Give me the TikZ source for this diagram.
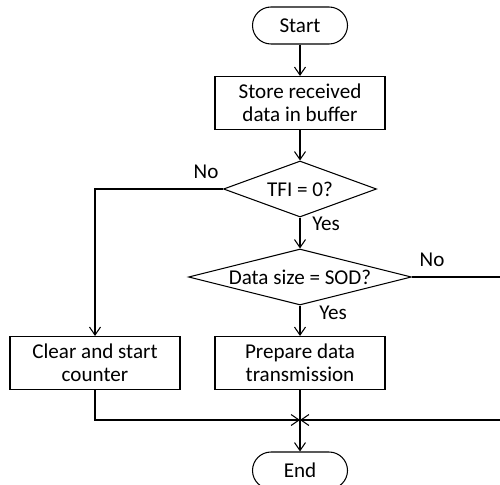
\documentclass[tikz,border=0pt]{standalone}
\usepackage{fontspec}
\setmainfont{Carlito}
\usetikzlibrary{shapes.geometric, arrows.meta, positioning}
\tikzset{
    terminal/.style={
        rectangle, draw=black, line width=0.6pt, rounded corners=0.37cm,
        minimum width=1.9cm, minimum height=0.74cm,
        fill=white, font=\fontsize{12}{13}\selectfont
    },
    process/.style={
        rectangle, draw=black, line width=0.6pt,
        minimum width=3.4cm, minimum height=1.06cm, align=center,
        fill=white, font=\fontsize{12}{13}\selectfont
    },
    decision/.style={
        diamond, draw=black, line width=0.6pt, aspect=4, inner sep=0pt,
        minimum height=1.12cm,
        fill=white, font=\fontsize{12}{13}\selectfont
    },
    flow/.style={draw=black, line width=0.6pt, -{Straight Barb[length=1.6mm, width=2.2mm]}},
    line/.style={draw=black, line width=0.6pt},
    answer/.style={font=\fontsize{12}{13}\selectfont, inner sep=0pt}
}
\begin{document}
\begin{tikzpicture}
\useasboundingbox (0,0) rectangle (10,-9.68);

% Main column
\node[terminal] (start) at (6,-0.51) {Start};
\node[process] (store) at (6,-2.06) {Store received\\data in buffer};
\node[decision, minimum width=3.06cm] (tfi) at (6,-3.78) {TFI = 0?};
\node[decision, minimum width=4.46cm] (sod) at (6,-5.54) {Data size = SOD?};
\node[process] (prep) at (6,-7.26) {Prepare data\\transmission};
\node[terminal] (end) at (6,-9.41) {End};

% Left branch
\node[process] (clear) at (1.9,-7.26) {Clear and start\\counter};

% Branch labels
\node[answer] (tfino) at (4.12,-3.43) {No};
\node[answer] (tfiyes) at (6.52,-4.48) {Yes};
\node[answer] (sodno) at (8.64,-5.19) {No};
\node[answer] (sodyes) at (6.66,-6.26) {Yes};

% Joins
\coordinate (merge) at (6,-8.4);
\coordinate (rcorner) at (10.06,-8.4);

% Connections
\draw[flow] (start) -- (store);
\draw[flow] (store) -- (tfi);
\draw[flow] (tfi) -- (sod);
\draw[flow] (sod) -- (prep);
\draw[flow] (tfi.west) -| (clear);
\draw[flow] (sod.east) -| (rcorner) -- (merge);
\draw[flow] (clear) |- (merge);
\draw[line] (prep) -- (merge);
\draw[flow] (merge) -- (end);

\end{tikzpicture}
\end{document}
